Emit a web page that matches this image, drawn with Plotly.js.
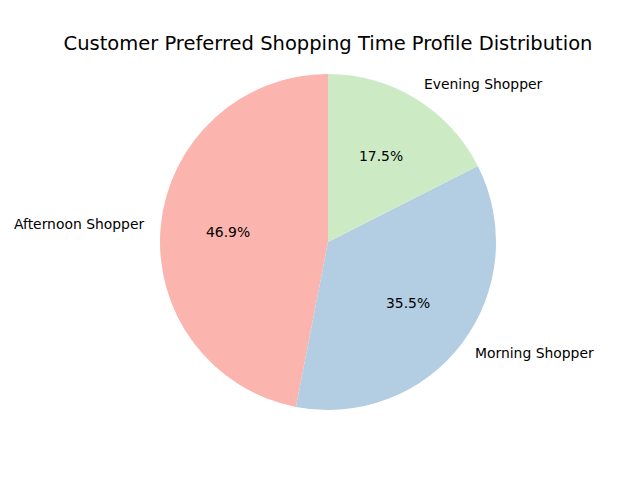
<!DOCTYPE html>
<html>
<head>
<meta charset="utf-8">
<script src="https://cdn.plot.ly/plotly-3.0.1.min.js"></script>
<style>html,body{margin:0;padding:0;background:#fff;}#chart{width:640px;height:480px;}</style>
</head>
<body>
<div id="chart"></div>
<script>
const labels = ['Afternoon Shopper', 'Morning Shopper', 'Evening Shopper'];
const values = [46.9, 35.5, 17.5];
const colors = ['#fbb4ae', '#b3cde3', '#ccebc5'];
const chartTitle = 'Customer Preferred Shopping Time Profile Distribution';

const W = 640, H = 480;
const CX = 328, CY = 242, R = 168; // pixel geometry of the pie
const cxP = CX / W, cyP = (H - CY) / H;
const font = 'DejaVu Sans, sans-serif';

const total = values.reduce((a, b) => a + b, 0);
const annotations = [];
let cum = 0;
values.forEach((v, i) => {
  const frac = v / total;
  const mid = (90 + 360 * (cum + frac / 2)) * Math.PI / 180;
  cum += frac;
  const c = Math.cos(mid), s = Math.sin(mid);
  annotations.push({
    xref: 'paper', yref: 'paper',
    x: cxP + 1.1 * R * c / W, y: cyP + 1.1 * R * s / H,
    xshift: c > 0 ? -2.5 : 2,
    text: labels[i], showarrow: false,
    xanchor: c > 0 ? 'left' : 'right', yanchor: 'middle',
    font: {family: font, size: 13.9, color: '#000'}
  });
  annotations.push({
    xref: 'paper', yref: 'paper',
    x: cxP + 0.6 * R * c / W, y: cyP + 0.6 * R * s / H,
    text: (frac * 100).toFixed(1) + '%', showarrow: false,
    xanchor: 'center', yanchor: 'middle',
    font: {family: font, size: 13.9, color: '#000'}
  });
});

// Plotly's counterclockwise layout places the first slice clockwise of the start angle,
// so shift the start so the first slice begins at 12 o'clock and runs counterclockwise.
const rotation = -360 * values[0] / total;

const trace = {
  type: 'pie',
  labels: labels,
  values: values,
  sort: false,
  direction: 'counterclockwise',
  rotation: rotation,
  textinfo: 'none',
  hoverinfo: 'skip',
  showlegend: false,
  marker: {colors: colors, line: {width: 0}},
  domain: {x: [(CX - R) / W, (CX + R) / W], y: [(H - CY - R) / H, (H - CY + R) / H]}
};

const layout = {
  width: W, height: H,
  margin: {l: 0, r: 0, t: 0, b: 0},
  paper_bgcolor: '#fff',
  showlegend: false,
  title: {
    text: chartTitle,
    x: CX / W, xanchor: 'center', xref: 'paper',
    y: 1 - 43 / H, yanchor: 'middle', yref: 'container',
    font: {family: font, size: 19.5, color: '#000'}
  },
  annotations: annotations
};

Plotly.newPlot('chart', [trace], layout, {displayModeBar: false, staticPlot: true});
</script>
</body>
</html>
